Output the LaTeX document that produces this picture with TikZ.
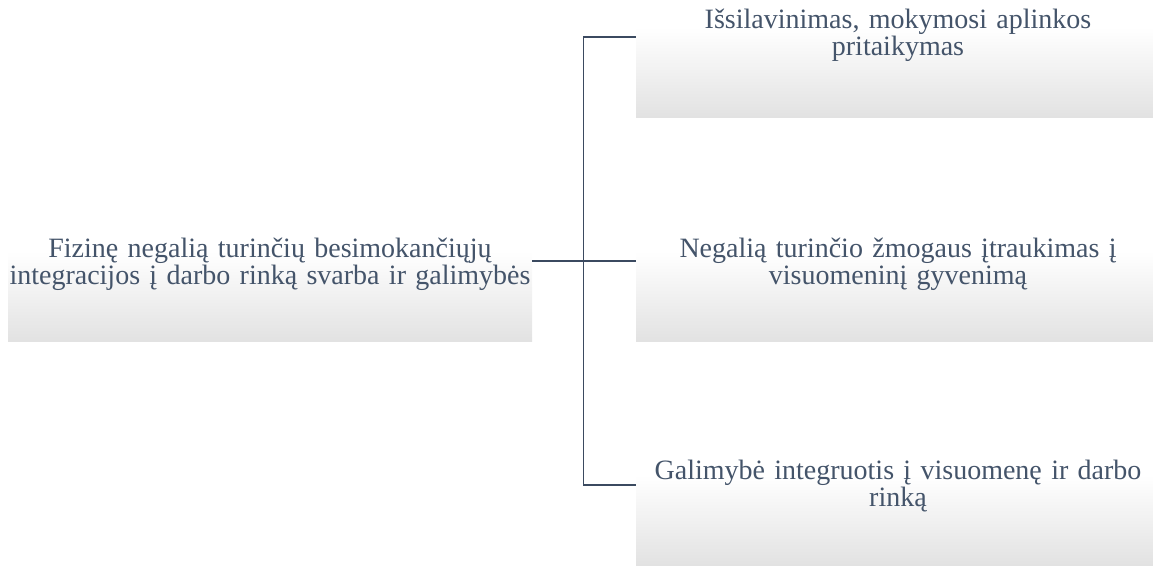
\documentclass[tikz,border=0pt]{standalone}
\usepackage{fontspec}
\setmainfont{Liberation Serif}
\definecolor{txtc}{HTML}{44546A}
\definecolor{linec}{HTML}{3B4A60}
\definecolor{shadec}{HTML}{E2E2E2}
\pgfdeclareverticalshading{boxfade}{100bp}{color(0bp)=(shadec); color(25bp)=(shadec); color(53bp)=(white); color(100bp)=(white)}
\tikzset{
  gbox/.style={rectangle, minimum width=524pt, minimum height=160pt, inner sep=0pt,
    shading=boxfade},
  gtext/.style={inner sep=0pt, text width=600pt, align=center, text=txtc,
    font=\fontsize{28pt}{27pt}\selectfont},
  conn/.style={draw=linec, line width=1.3pt}
}
\begin{document}
\begin{tikzpicture}[x=1pt,y=1pt]
\useasboundingbox (0,0) rectangle (1153,-565);
\clip (0,0) rectangle (1153,-565);
\node[gbox] (L) at (270,-261) {};
\node[gbox] (R1) at (898,-37) {};
\node[gbox] (R2) at (898,-261) {};
\node[gbox] (R3) at (898,-485) {};
\node[gtext] (LT) at (270,-264) {Fizinę negalią turinčių besimokančiųjų\\integracijos į darbo rinką svarba ir galimybės};
\node[gtext] (R1T) at (898,-35) {Išsilavinimas, mokymosi aplinkos\\pritaikymas};
\node[gtext] (R2T) at (898,-264) {Negalią turinčio žmogaus įtraukimas į\\visuomeninį gyvenimą};
\node[gtext] (R3T) at (898,-486) {Galimybė integruotis į visuomenę ir darbo\\rinką};
\coordinate (J) at (583.5,-261);
\draw[conn] (L.east) -- (J);
\draw[conn] (J) |- (R1.west);
\draw[conn] (J) -- (R2.west);
\draw[conn] (J) |- (R3.west);
\end{tikzpicture}
\end{document}
